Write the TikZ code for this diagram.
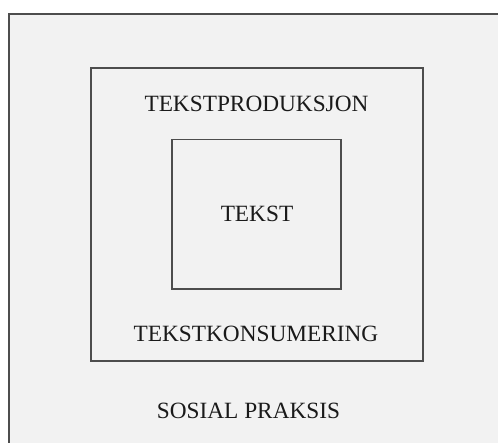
\documentclass[tikz,border=0pt]{standalone}
\usepackage{fontspec}
\setmainfont{Liberation Serif}
\definecolor{bgfill}{HTML}{F2F2F2}
\definecolor{linegray}{HTML}{4D4D4D}
\definecolor{txt}{HTML}{1A1A1A}
\begin{document}
\begin{tikzpicture}[x=1pt,y=-1pt,
  box/.style={draw=linegray,line width=1.5pt,inner sep=0pt,outer sep=0pt},
  lbl/.style={text=txt,font=\fontsize{23.3pt}{28pt}\selectfont,inner sep=0pt,anchor=base}]
\useasboundingbox (0,0) rectangle (498,443);
\fill[white] (0,0) rectangle (498,443);
\begin{scope}
\clip (0,0) rectangle (498,443);
\node[box,fill=bgfill,minimum width=501pt,minimum height=446pt] (outer) at (259.5,237) {};
\end{scope}
\node[box,minimum width=332pt,minimum height=293pt] (mid) at (257,214.5) {};
\node[box,minimum width=169pt,minimum height=149.5pt] (inner) at (256.5,214.5) {};
\node[lbl] (tekst) at (257,222) {TEKST};
\node[lbl] (prod) at (256.5,112) {TEKSTPRODUKSJON};
\node[lbl] (kons) at (256,342) {TEKSTKONSUMERING};
\node[lbl] (sosial) at (248.5,419) {SOSIAL PRAKSIS};
\end{tikzpicture}
\end{document}
